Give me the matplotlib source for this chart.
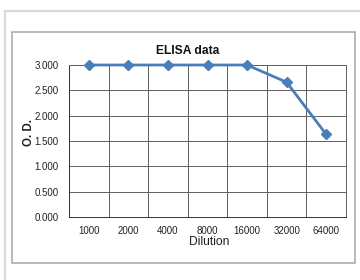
import matplotlib
matplotlib.use("Agg")
import matplotlib.pyplot as plt
from matplotlib.patches import Rectangle

categories = ["1000", "2000", "4000", "8000", "16000", "32000", "64000"]
od_values = [3.0, 3.0, 3.0, 3.0, 3.0, 2.66, 1.63]
y_ticks = [0.0, 0.5, 1.0, 1.5, 2.0, 2.5, 3.0]

plt.rcParams['font.family'] = ['Liberation Sans', 'DejaVu Sans']

W, H = 360, 280
fig = plt.figure(figsize=(W / 100, H / 100), dpi=100)
fig.patch.set_facecolor("white")

# outer frame (extends beyond right/bottom edge)
fig.patches.append(Rectangle((4.5 / W, -0.1), 1.2, 1 - 10.5 / H + 0.1, transform=fig.transFigure,
                             fill=False, edgecolor="#d9d9d9", linewidth=1.6))
# chart area border
fig.patches.append(Rectangle((12 / W, 1 - 263 / H), (355 - 12) / W, (263 - 32) / H,
                             transform=fig.transFigure, fill=False, edgecolor="#a6a6a6", linewidth=1.1))

left, right, top, bottom = 69, 346, 65, 217
ax = fig.add_axes([left / W, 1 - bottom / H, (right - left) / W, (bottom - top) / H])
ax.set_facecolor("white")

x = list(range(len(categories)))
ax.plot(x, od_values, color="#4a7ebb", linewidth=2, marker="D", markersize=4.8,
        markerfacecolor="#4a7ebb", markeredgecolor="#4a7ebb", zorder=5, clip_on=False)

ax.set_xlim(-0.5, len(categories) - 0.5)
ax.set_ylim(0, 3.0)
ax.set_yticks(y_ticks)
ax.set_yticklabels([f"{v:.3f}" for v in y_ticks], fontsize=7, color="#222222")
ax.set_xticks(x)
ax.set_xticklabels(categories, fontsize=7, color="#222222")
ax.set_xticks([i + 0.5 for i in range(-1, len(categories))], minor=True)
ax.tick_params(axis="x", which="both", length=0, pad=6.5)
ax.tick_params(axis="y", length=0, pad=7.5)
ax.grid(True, axis="y", color="#606060", linewidth=0.7)
ax.grid(True, axis="x", which="minor", color="#606060", linewidth=0.7)
ax.grid(False, axis="x", which="major")
for s in ax.spines.values():
    s.set_color("#606060")
    s.set_linewidth(0.7)
ax.spines["left"].set_color("#333333")
ax.spines["bottom"].set_color("#333333")

fig.text(188 / W, 1 - 51 / H, "ELISA data", fontsize=8.7, fontweight="bold",
         ha="center", va="center", color="#111111")
fig.text(209 / W, 1 - 242 / H, "Dilution", fontsize=8.7, ha="center", va="center", color="#222222")
fig.text(28.5 / W, 1 - 133 / H, "O. D.", fontsize=8.3, fontweight="bold", rotation=90,
         ha="center", va="center", color="#222222")

fig.savefig("out.png", dpi=100)
